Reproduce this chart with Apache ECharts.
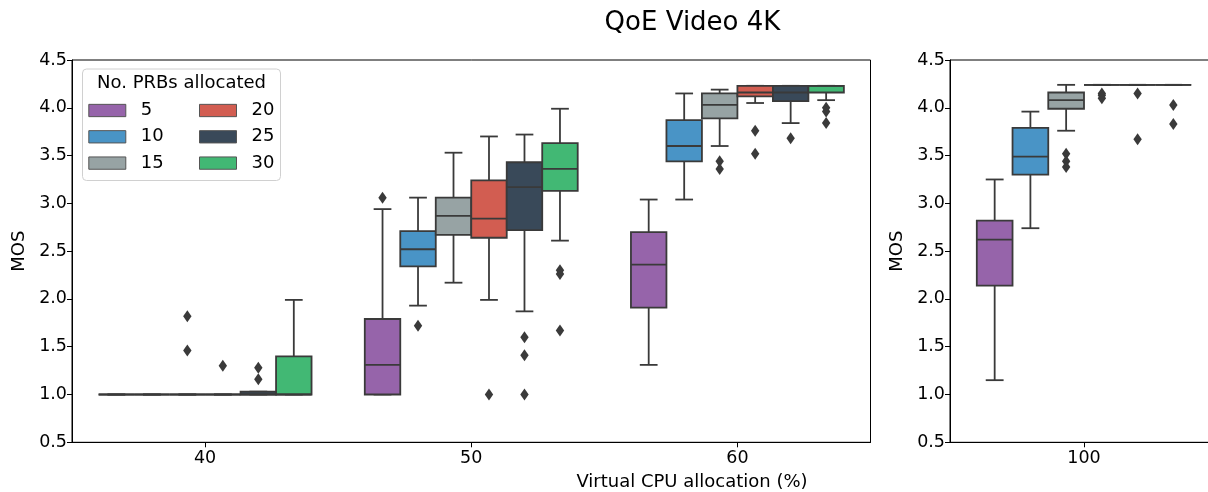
<!DOCTYPE html>
<html>
<head>
<meta charset="utf-8">
<script src="https://cdn.jsdelivr.net/npm/echarts@6/dist/echarts.min.js"></script>
<style>
html,body{margin:0;padding:0;background:#fff;}
#chart{width:1208px;height:492px;}
</style>
</head>
<body>
<div id="chart"></div>
<script>
// ---------------- data ----------------
const cpuLeft = ['40', '50', '60'];
const cpuRight = ['100'];
const prbs = ['5', '10', '15', '20', '25', '30'];
const colors = ['#9664aa', '#4994c6', '#97a3a4', '#d25d51', '#394959', '#42b874'];
const yTicks = [0.5, 1.0, 1.5, 2.0, 2.5, 3.0, 3.5, 4.0, 4.5];

// box statistics [min, q1, median, q3, max] per CPU allocation: 40, 50, 60, 100
const stats5  = { '40': [1.00, 1.00, 1.00, 1.00, 1.00], '50': [1.00, 1.00, 1.31, 1.79, 2.94], '60': [1.31, 1.91, 2.36, 2.70, 3.04], '100': [1.15, 2.14, 2.62, 2.82, 3.25] };
const stats10 = { '40': [1.00, 1.00, 1.00, 1.00, 1.00], '50': [1.93, 2.34, 2.52, 2.71, 3.06], '60': [3.04, 3.44, 3.60, 3.87, 4.15], '100': [2.74, 3.30, 3.49, 3.79, 3.96] };
const stats15 = { '40': [1.00, 1.00, 1.00, 1.00, 1.00], '50': [2.17, 2.67, 2.87, 3.06, 3.53], '60': [3.60, 3.89, 4.03, 4.15, 4.19], '100': [3.76, 3.99, 4.08, 4.16, 4.24] };
const stats20 = { '40': [1.00, 1.00, 1.00, 1.00, 1.00], '50': [1.99, 2.64, 2.84, 3.24, 3.70], '60': [4.05, 4.12, 4.16, 4.23, 4.23], '100': [4.24, 4.24, 4.24, 4.24, 4.24] };
const stats25 = { '40': [1.00, 1.00, 1.00, 1.03, 1.03], '50': [1.87, 2.72, 3.17, 3.43, 3.72], '60': [3.84, 4.07, 4.16, 4.23, 4.23], '100': [4.24, 4.24, 4.24, 4.24, 4.24] };
const stats30 = { '40': [1.00, 1.00, 1.00, 1.40, 1.99], '50': [2.61, 3.13, 3.36, 3.63, 3.99], '60': [4.08, 4.16, 4.23, 4.23, 4.23], '100': [4.24, 4.24, 4.24, 4.24, 4.24] };

// outliers [cpu, MOS]
const out5  = [['50', 3.06]];
const out10 = [['50', 1.72]];
const out15 = [['40', 1.82], ['40', 1.46], ['60', 3.44], ['60', 3.36], ['100', 3.52], ['100', 3.44], ['100', 3.38]];
const out20 = [['40', 1.30], ['50', 1.00], ['60', 3.76], ['60', 3.52], ['100', 4.15], ['100', 4.13], ['100', 4.10]];
const out25 = [['40', 1.28], ['40', 1.16], ['50', 1.60], ['50', 1.41], ['50', 1.00], ['60', 3.68], ['100', 4.15], ['100', 3.67]];
const out30 = [['50', 2.30], ['50', 2.26], ['50', 1.67], ['60', 4.00], ['60', 3.96], ['60', 3.84], ['100', 4.03], ['100', 3.83]];

const allStats = [stats5, stats10, stats15, stats20, stats25, stats30];
const allOut = [out5, out10, out15, out20, out25, out30];

// ---------------- style ----------------
const FONT = 'DejaVu Sans';
const LINE = '#3a3a3a';
const LW = 1.8;

function boxRender(k) {
  return function (params, api) {
    const cat = api.value(0);
    const band = api.size([1, 0])[0];
    const w = band * 0.8 / 6;
    const cx = api.coord([cat, 1])[0] + (k - 2.5) * w;
    const yv = i => api.coord([cat, api.value(i)])[1];
    const yMin = yv(1), yQ1 = yv(2), yMed = yv(3), yQ3 = yv(4), yMax = yv(5);
    const ls = { stroke: LINE, lineWidth: LW };
    return {
      type: 'group',
      children: [
        { type: 'line', shape: { x1: cx, y1: yQ3, x2: cx, y2: yMax }, style: ls },
        { type: 'line', shape: { x1: cx, y1: yQ1, x2: cx, y2: yMin }, style: ls },
        { type: 'line', shape: { x1: cx - w / 4, y1: yMax, x2: cx + w / 4, y2: yMax }, style: ls },
        { type: 'line', shape: { x1: cx - w / 4, y1: yMin, x2: cx + w / 4, y2: yMin }, style: ls },
        { type: 'rect', shape: { x: cx - w / 2, y: yQ3, width: w, height: yQ1 - yQ3 },
          style: { fill: colors[k], stroke: LINE, lineWidth: LW } },
        { type: 'line', shape: { x1: cx - w / 2, y1: yMed, x2: cx + w / 2, y2: yMed }, style: ls }
      ]
    };
  };
}

function outRender(k) {
  return function (params, api) {
    const cat = api.value(0);
    const band = api.size([1, 0])[0];
    const w = band * 0.8 / 6;
    const cx = api.coord([cat, 1])[0] + (k - 2.5) * w;
    const cy = api.coord([cat, api.value(1)])[1];
    return {
      type: 'polygon',
      shape: { points: [[cx, cy - 6], [cx + 4.2, cy], [cx, cy + 6], [cx - 4.2, cy]] },
      style: { fill: LINE }
    };
  };
}

const series = [];
[[cpuLeft, 0], [cpuRight, 1]].forEach(([cats, gi]) => {
  prbs.forEach((p, k) => {
    const boxData = cats.map((c, ci) => [ci].concat(allStats[k][c]));
    series.push({
      name: p, type: 'custom', xAxisIndex: gi, yAxisIndex: gi,
      itemStyle: { color: colors[k] },
      encode: { x: 0, y: [1, 2, 3, 4, 5] },
      renderItem: boxRender(k), data: boxData, z: 2
    });
    const outData = allOut[k].filter(o => cats.indexOf(o[0]) >= 0).map(o => [cats.indexOf(o[0]), o[1]]);
    series.push({
      name: p + ' outliers', type: 'custom', xAxisIndex: gi, yAxisIndex: gi,
      itemStyle: { color: LINE },
      encode: { x: 0, y: 1 },
      renderItem: outRender(k), data: outData, z: 3
    });
  });
});

function xAxisCfg(cats, gi) {
  return {
    type: 'category', gridIndex: gi, data: cats, boundaryGap: true,
    axisLine: { show: true, lineStyle: { color: '#000', width: 1 } },
    axisTick: { show: true, alignWithLabel: true, length: 5, lineStyle: { color: '#000' } },
    axisLabel: { fontSize: 17.5, color: '#000', fontFamily: FONT, margin: 7 },
    splitLine: { show: false }
  };
}
function yAxisCfg(gi) {
  return {
    type: 'value', gridIndex: gi, min: 0.5, max: 4.5, interval: 0.5,
    name: 'MOS', nameLocation: 'middle', nameGap: 44, nameRotate: 90,
    nameTextStyle: { fontSize: 18, color: '#000', fontFamily: FONT },
    axisLine: { show: true, lineStyle: { color: '#000', width: 1 } },
    axisTick: { show: true, length: 5, lineStyle: { color: '#000' } },
    axisLabel: { fontSize: 17.5, color: '#000', fontFamily: FONT, margin: 5,
      formatter: v => (yTicks.indexOf(v) >= 0 ? v.toFixed(1) : '') },
    splitLine: { show: false }
  };
}

const legendBase = {
  orient: 'vertical', icon: 'rect', itemWidth: 37, itemHeight: 12.3, itemGap: 8.3, padding: 0,
  textStyle: { fontSize: 18, color: '#000', fontFamily: FONT, lineHeight: 18, padding: [0, 0, 0, 10] },
  itemStyle: { borderColor: '#555', borderWidth: 1 },
  selectedMode: false, z: 10
};

const option = {
  backgroundColor: '#fff',
  animation: false,
  grid: [
    { left: 72, top: 60, width: 798.5, height: 382.3, show: true, borderColor: '#000', borderWidth: 1,
      backgroundColor: 'transparent', outerBoundsMode: 'none', containLabel: false },
    { left: 950, top: 60, width: 268, height: 382.3, show: true, borderColor: '#000', borderWidth: 1,
      backgroundColor: 'transparent', outerBoundsMode: 'none', containLabel: false }
  ],
  xAxis: [xAxisCfg(cpuLeft, 0), xAxisCfg(cpuRight, 1)],
  yAxis: [yAxisCfg(0), yAxisCfg(1)],
  legend: [
    Object.assign({}, legendBase, { data: prbs.slice(0, 3), left: 88.3, top: 101.5 }),
    Object.assign({}, legendBase, { data: prbs.slice(3, 6), left: 199, top: 101.5 })
  ],
  graphic: [
    { type: 'rect', left: 82, top: 68.5, z: 5,
      shape: { width: 198, height: 111.5, r: 4 },
      style: { fill: 'rgba(255,255,255,0.85)', stroke: '#d0d0d0', lineWidth: 1 } },
    { type: 'text', x: 181.5, y: 83.5, z: 11,
      style: { text: 'No. PRBs allocated', fontSize: 18, fontFamily: FONT, fill: '#000', textAlign: 'center', textVerticalAlign: 'middle' } },
    { type: 'text', x: 692.5, y: 23, z: 11,
      style: { text: 'QoE Video 4K', fontSize: 26, fontFamily: FONT, fill: '#000', textAlign: 'center', textVerticalAlign: 'middle' } },
    { type: 'text', x: 692, y: 482, z: 11,
      style: { text: 'Virtual CPU allocation (%)', fontSize: 18, fontFamily: FONT, fill: '#000', textAlign: 'center', textVerticalAlign: 'middle' } }
  ],
  series: series
};

const chart = echarts.init(document.getElementById('chart'), null, { renderer: 'canvas' });
chart.setOption(option);
</script>
</body>
</html>
